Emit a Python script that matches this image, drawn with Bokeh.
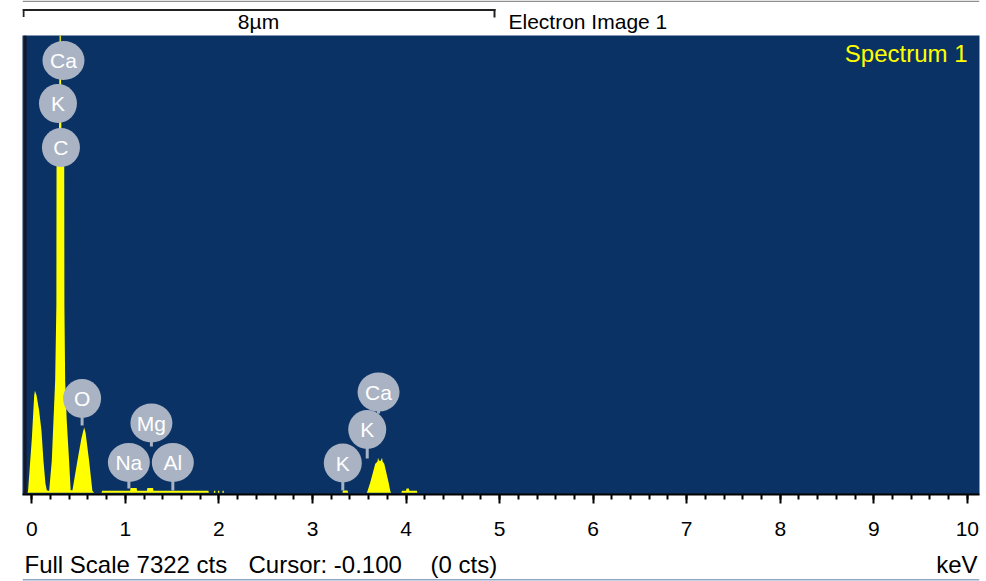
from bokeh.plotting import figure
from bokeh.layouts import column
from bokeh.models import Range1d, Label, Span, FixedTicker, ColumnDataSource
from bokeh.core.properties import value
from bokeh.embed import file_html
from bokeh.resources import INLINE

# ---------------- data ----------------
# spectrum outline: energy (keV) and counts
energy_kev = [-0.10, -0.045, -0.040, 0.000, 0.025, 0.033, 0.050, 0.078, 0.103, 0.124, 0.145, 0.160, 0.175,
              0.185, 0.213, 0.249, 0.262, 0.264, 0.290, 0.303, 0.316, 0.346, 0.348, 0.356, 0.373, 0.398, 0.415,
              0.434, 0.487, 0.530, 0.559, 0.575, 0.612, 0.647, 0.665,
              0.745, 0.751, 1.050, 1.055, 1.120, 1.125, 1.230, 1.235, 1.295, 1.300, 1.887, 1.892,
              1.945, 1.947, 1.960, 1.962, 1.988, 1.990, 2.003, 2.005, 2.036, 2.038, 2.051, 2.053,
              3.320, 3.326, 3.375, 3.380,
              3.580, 3.589, 3.618, 3.671, 3.695, 3.700, 3.712, 3.730, 3.743, 3.750, 3.767, 3.813, 3.831, 3.840,
              3.950, 3.956, 4.000, 4.005, 4.030, 4.035, 4.116, 4.120, 10.13]
counts = [0, 0, 40, 870, 1560, 1630, 1560, 1310, 990, 510, 150, 40, 30,
          30, 510, 1790, 3000, 5480, 5700, 9000, 5700, 5480, 3000, 1790, 1150, 510, 40,
          40, 510, 870, 1048, 950, 510, 30, 0,
          0, 30, 30, 75, 75, 30, 30, 75, 75, 30, 30, 0,
          0, 30, 30, 0, 0, 30, 30, 0, 0, 30, 30, 0,
          0, 35, 35, 0,
          0, 30, 167, 461, 500, 557, 510, 510, 557, 500, 461, 167, 30, 0,
          0, 30, 30, 65, 65, 30, 30, 0, 0]

# element markers
label_text = ["Ca", "K", "C", "O", "Mg", "Na", "Al", "K", "K", "Ca"]
label_kev = [0.338, 0.279, 0.311, 0.537, 1.278, 1.037, 1.507, 3.324, 3.585, 3.706]
label_cts = [6922, 6233, 5529, 1507, 1115, 482, 482, 474, 1011, 1610]
stem_base_cts = [6922, 6233, 5529, 1075, 738, 66, 34, 34, 546, 1267]

full_scale_cts = 7322
cursor_text = "-0.100"
cursor_cts = 0
x_ticks = [0, 1, 2, 3, 4, 5, 6, 7, 8, 9, 10]
x_minor_ticks = [i / 5 for i in range(0, 51)]

# ---------------- layout ----------------
W, H = 986, 581
TOP_H = 35          # white band with scale bar
AX_BOTTOM = 545     # bottom of tick-label area
FL, FR, FB = 22, 979, 494
X0, X1 = -0.10, 10.13
Y0, Y1 = -30, full_scale_cts

BLUE = "#0a3264"
YELLOW = "#ffff00"
BALLOON = "#a9b3c3"
FONT = "Liberation Sans"


def bare(height, y_top, y_bottom):
    # page-pixel coordinates; frame aligned with the spectrum frame horizontally
    f = figure(width=W, height=height, x_range=Range1d(FL, FR), y_range=Range1d(y_bottom, y_top),
               output_backend="svg", toolbar_location=None, x_axis_location=None, y_axis_location=None,
               min_border_left=FL, min_border_right=W - FR, min_border_top=0, min_border_bottom=0,
               background_fill_color="white", border_fill_color="white", outline_line_color=None,
               title=None)
    f.grid.visible = False
    return f


# ---- top band: scale bar and image caption ----
top = bare(TOP_H, 0, TOP_H)
top.quad(left=[FL], right=[FR], top=[0], bottom=[1.5], fill_color="#909090", line_color=None)
top.quad(left=[22, 22, 493], right=[495, 24, 495], top=[8.5, 8.5, 8.5], bottom=[10.5, 16.5, 17],
         fill_color="#222222", line_color=None)
top.text(x=[258], y=[20.8], text=["8\u00b5m"], text_align="center", text_baseline="middle",
         text_font=value(FONT), text_font_size="21px", text_color="black")
top.text(x=[508], y=[21.2], text=["Electron Image 1"], text_align="left", text_baseline="middle",
         text_font=value(FONT), text_font_size="21px", text_color="black")

# ---- main spectrum plot ----
p = figure(width=W, height=AX_BOTTOM - TOP_H, x_range=Range1d(X0, X1), y_range=Range1d(Y0, Y1),
           output_backend="svg", toolbar_location=None, y_axis_location=None,
           min_border_left=FL, min_border_right=W - FR, min_border_top=0, min_border_bottom=AX_BOTTOM - FB,
           background_fill_color=BLUE, border_fill_color="white", outline_line_color=None, title=None)
p.grid.visible = False

ax = p.xaxis[0]
ax.ticker = FixedTicker(ticks=x_ticks, minor_ticks=x_minor_ticks)
ax.axis_line_color = "black"
ax.axis_line_width = 2
ax.major_tick_line_color = "black"
ax.major_tick_line_width = 2
ax.major_tick_in = 0
ax.major_tick_out = 9
ax.minor_tick_line_color = "black"
ax.minor_tick_line_width = 2
ax.minor_tick_in = 0
ax.minor_tick_out = 5
ax.major_label_text_font = FONT
ax.major_label_text_font_size = "21px"
ax.major_label_text_color = "black"
ax.major_label_standoff = 18

# cursor line
p.add_layout(Span(location=-0.07, dimension="height", line_color="#15182a", line_width=2.5))

# spectrum
p.varea(x=energy_kev, y1=0, y2=counts, fill_color=YELLOW)

# element markers
bw = [42 if len(t) == 2 else 38 for t in label_text]
src = ColumnDataSource(dict(x=label_kev, y=label_cts, y0=stem_base_cts, t=label_text, w=bw))
p.segment(x0="x", y0="y0", x1="x", y1="y", source=src, line_color=BALLOON, line_width=3)
p.ellipse(x="x", y="y", width="w", height=39, width_units="screen", height_units="screen",
          source=src, fill_color=BALLOON, line_color=None)
p.text(x="x", y="y", text="t", source=src, text_align="center", text_baseline="middle",
       text_color="white", text_font=value(FONT), text_font_size="21px")

p.add_layout(Label(x=967 - FL, y=FB - 53.3, x_units="screen", y_units="screen",
                   text="Spectrum 1", text_align="right", text_baseline="middle",
                   text_font=FONT, text_font_size="24px", text_color=YELLOW))

# ---- bottom status line ----
bot = bare(H - AX_BOTTOM, AX_BOTTOM, H)
bot.quad(left=[FL], right=[FR], top=[578.5], bottom=[580], fill_color="#8fa6c4", line_color=None)
bot.text(x=[24, 248, 430], y=[563.8, 563.8, 563.8],
         text=["Full Scale %d cts" % full_scale_cts, "Cursor: " + cursor_text, "(%d cts)" % cursor_cts],
         text_align="left", text_baseline="middle", text_font=value(FONT), text_font_size="24px",
         text_color="black")
bot.text(x=[977], y=[563.5], text=["keV"], text_align="right", text_baseline="middle",
         text_font=value(FONT), text_font_size="24px", text_color="black")

layout = column(top, p, bot, spacing=0)
open("out.html", "w").write(file_html(layout, INLINE))
